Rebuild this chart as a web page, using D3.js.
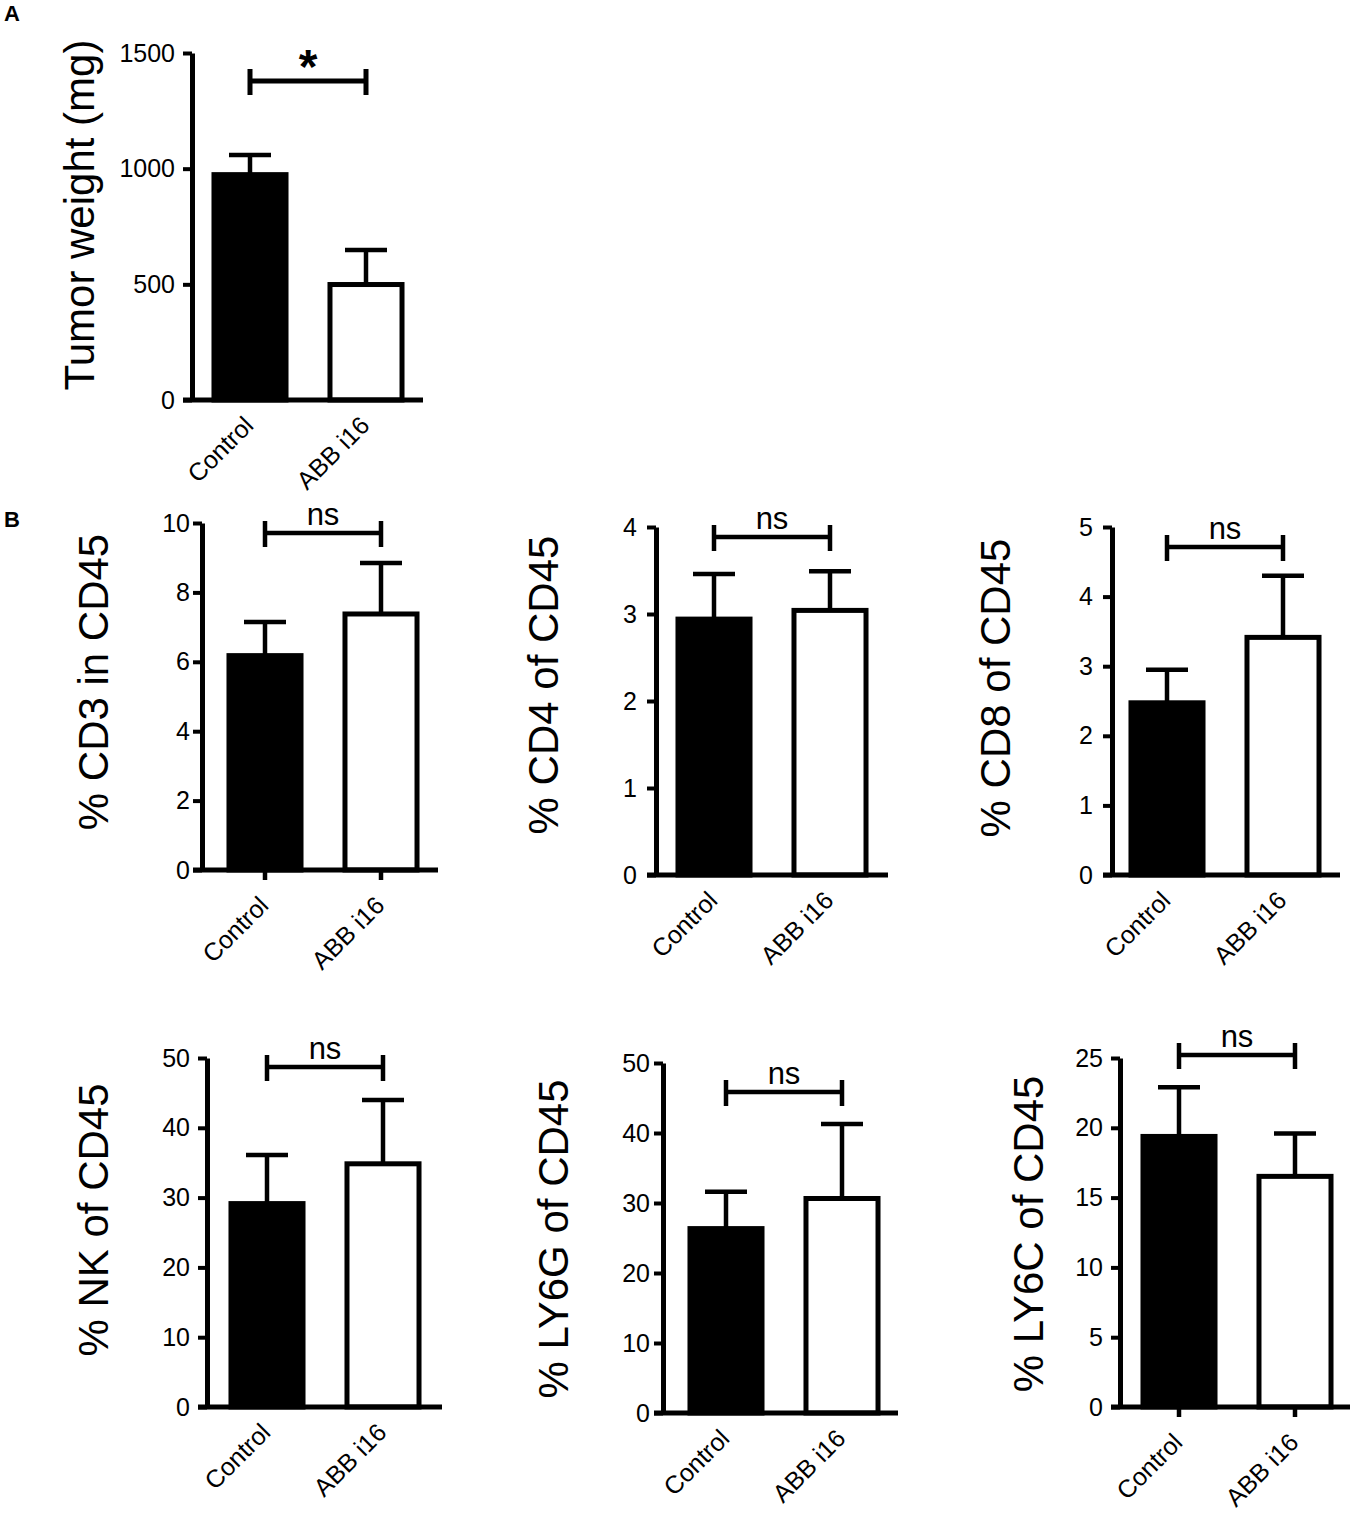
<!DOCTYPE html>
<html>
<head>
<meta charset="utf-8">
<script src="https://cdn.jsdelivr.net/npm/d3@7"></script>
<style>
  body { margin: 0; background: #fff; }
  svg text { font-family: "Liberation Sans", Arial, sans-serif; fill: #000; }
</style>
</head>
<body>
<svg id="chart"></svg>
<script>
// groups on the x axis
var groups = ['Control', 'ABB i16'];

// mean and SEM per group
var tumorMean = [985, 510];
var tumorSem = [74, 138];
var cd3Mean = [6.25, 7.45];
var cd3Sem = [0.9, 1.4];
var cd4Mean = [2.97, 3.07];
var cd4Sem = [0.49, 0.42];
var cd8Mean = [2.51, 3.45];
var cd8Sem = [0.44, 0.85];
var nkMean = [29.5, 35.2];
var nkSem = [6.6, 8.8];
var ly6gMean = [26.7, 31.0];
var ly6gSem = [4.9, 10.3];
var ly6cMean = [19.56, 16.7];
var ly6cSem = [3.34, 2.9];

// y tick values
var tumorTicks = [0, 500, 1000, 1500];
var cd3Ticks = [0, 2, 4, 6, 8, 10];
var cd4Ticks = [0, 1, 2, 3, 4];
var cd8Ticks = [0, 1, 2, 3, 4, 5];
var pctTicks = [0, 10, 20, 30, 40, 50];
var ly6cTicks = [0, 5, 10, 15, 20, 25];

var titles = ['Tumor weight (mg)', '% CD3 in CD45', '% CD4 of CD45', '% CD8 of CD45',
              '% NK of CD45', '% LY6G of CD45', '% LY6C of CD45'];
var sigLabels = ['*', 'ns', 'ns', 'ns', 'ns', 'ns', 'ns'];

var svgWidth = 1356, svgHeight = 1514;
var svg = d3.select('#chart')
    .attr('width', svgWidth)
    .attr('height', svgHeight);

// panel placement (layout only)
var panels = [
    { mean: tumorMean, sem: tumorSem, ticks: tumorTicks, ax: 192, top: 53, bottom: 400, xEnd: 423, c0: 250, tx: 94, ty: 215, gap: 17, xTicks: false, by: 81 },
    { mean: cd3Mean, sem: cd3Sem, ticks: cd3Ticks, ax: 202, top: 523, bottom: 870, xEnd: 438, c0: 265, tx: 108, ty: 682, gap: 12, xTicks: true, by: 533 },
    { mean: cd4Mean, sem: cd4Sem, ticks: cd4Ticks, ax: 656, top: 527, bottom: 875, xEnd: 888, c0: 714, tx: 558, ty: 685, gap: 19, xTicks: false, by: 537 },
    { mean: cd8Mean, sem: cd8Sem, ticks: cd8Ticks, ax: 1112, top: 527, bottom: 875, xEnd: 1340, c0: 1167, tx: 1010, ty: 688, gap: 19, xTicks: false, by: 547 },
    { mean: nkMean, sem: nkSem, ticks: pctTicks, ax: 207, top: 1058, bottom: 1407, xEnd: 442, c0: 267, tx: 108, ty: 1220, gap: 17, xTicks: false, by: 1067 },
    { mean: ly6gMean, sem: ly6gSem, ticks: pctTicks, ax: 663, top: 1063, bottom: 1413, xEnd: 898, c0: 726, tx: 568, ty: 1239, gap: 13, xTicks: false, by: 1092 },
    { mean: ly6cMean, sem: ly6cSem, ticks: ly6cTicks, ax: 1120, top: 1058, bottom: 1407, xEnd: 1350, c0: 1179, tx: 1043, ty: 1234, gap: 17, xTicks: true, by: 1055 }
];

var step = 116;

panels.forEach(function(p, i) {
    var g = svg.append('g');

    var y = d3.scaleLinear()
        .domain([0, d3.max(p.ticks)])
        .range([p.bottom, p.top]);

    var x = d3.scaleBand()
        .domain(groups)
        .range([p.c0 - step / 2, p.c0 + step * 1.5])
        .paddingInner(0.336)
        .paddingOuter(0.168);

    // bars
    g.selectAll('rect.bar')
        .data(groups)
        .enter().append('rect')
        .attr('class', 'bar')
        .attr('x', function(d) { return x(d) + 2.5; })
        .attr('width', x.bandwidth() - 5)
        .attr('y', function(d, j) { return y(p.mean[j]) + 2.5; })
        .attr('height', function(d, j) { return p.bottom - y(p.mean[j]) - 2.5; })
        .attr('fill', function(d, j) { return j === 0 ? '#000' : '#fff'; })
        .attr('stroke', '#000')
        .attr('stroke-width', 5);

    // error bars (upper only)
    groups.forEach(function(d, j) {
        var cx = x(d) + x.bandwidth() / 2;
        var y0 = y(p.mean[j]);
        var y1 = y(p.mean[j] + p.sem[j]);
        g.append('line')
            .attr('x1', cx).attr('x2', cx)
            .attr('y1', y0 + 2).attr('y2', y1)
            .attr('stroke', '#000').attr('stroke-width', 4.5);
        g.append('line')
            .attr('x1', cx - 21).attr('x2', cx + 21)
            .attr('y1', y1).attr('y2', y1)
            .attr('stroke', '#000').attr('stroke-width', 4.5);
    });

    // y axis
    var yAxis = g.append('g')
        .attr('transform', 'translate(' + p.ax + ',0)')
        .call(d3.axisLeft(y).tickValues(p.ticks).tickFormat(d3.format('d'))
            .tickSize(9).tickSizeOuter(0).tickPadding(p.gap - 9));
    yAxis.select('.domain').attr('stroke-width', 5);
    yAxis.selectAll('.tick line').attr('stroke-width', 4);
    yAxis.selectAll('.tick text')
        .attr('font-size', 25)
        .attr('font-family', '"Liberation Sans", Arial, sans-serif');

    // x axis baseline
    g.append('line')
        .attr('x1', p.ax - 9).attr('x2', p.xEnd)
        .attr('y1', p.bottom).attr('y2', p.bottom)
        .attr('stroke', '#000').attr('stroke-width', 5);

    var xAxis = g.append('g')
        .attr('transform', 'translate(0,' + p.bottom + ')')
        .call(d3.axisBottom(x).tickSize(p.xTicks ? 10 : 0));
    xAxis.select('.domain').remove();
    xAxis.selectAll('.tick line').attr('stroke-width', 4.5);
    xAxis.selectAll('.tick text')
        .attr('x', null).attr('y', null).attr('dy', null)
        .attr('text-anchor', 'end')
        .attr('font-size', 25)
        .attr('font-family', '"Liberation Sans", Arial, sans-serif')
        .attr('transform', 'translate(5,' + (p.xTicks ? 37 : 27) + ') rotate(-45)');

    // y title
    g.append('text')
        .attr('transform', 'translate(' + p.tx + ',' + p.ty + ') rotate(-90)')
        .attr('text-anchor', 'middle')
        .attr('font-size', 42)
        .text(titles[i]);

    // significance bracket
    var bx0 = x(groups[0]) + x.bandwidth() / 2;
    var bx1 = x(groups[1]) + x.bandwidth() / 2;
    g.append('path')
        .attr('d', 'M' + bx0 + ',' + p.by + 'H' + bx1 +
                   'M' + bx0 + ',' + (p.by - 12) + 'V' + (p.by + 14) +
                   'M' + bx1 + ',' + (p.by - 12) + 'V' + (p.by + 14))
        .attr('fill', 'none')
        .attr('stroke', '#000')
        .attr('stroke-width', i === 0 ? 5 : 4.5);

    var star = sigLabels[i] === '*';
    g.append('text')
        .attr('x', (bx0 + bx1) / 2)
        .attr('y', star ? p.by + 2 : p.by - 8)
        .attr('text-anchor', 'middle')
        .attr('font-size', star ? 48 : 31)
        .attr('font-weight', star ? 'bold' : 'normal')
        .text(sigLabels[i]);
});

// panel letters
svg.append('text').attr('x', 4).attr('y', 21)
    .attr('font-size', 22).attr('font-weight', 'bold').text('A');
svg.append('text').attr('x', 4).attr('y', 527)
    .attr('font-size', 22).attr('font-weight', 'bold').text('B');
</script>
</body>
</html>
